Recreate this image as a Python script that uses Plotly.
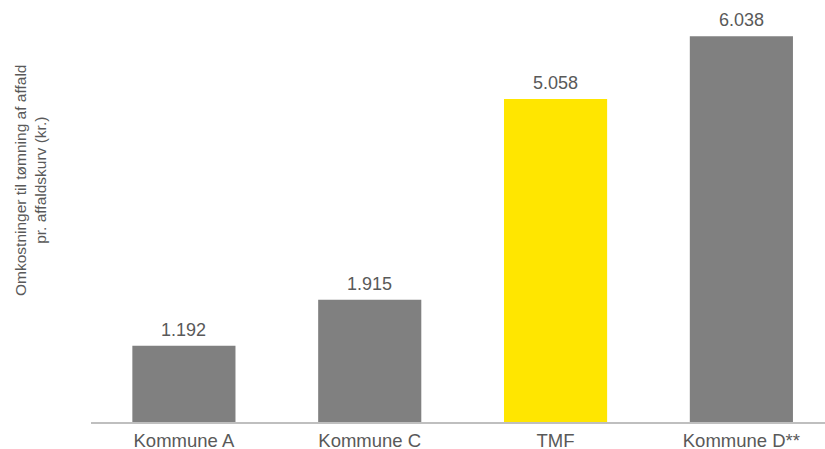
import plotly.graph_objects as go

categories = ["Kommune A", "Kommune C", "TMF", "Kommune D**"]
values = [1192, 1915, 5058, 6038]
colors = ["#808080", "#808080", "#FFE600", "#808080"]
labels = [f"{v:,}".replace(",", ".") for v in values]

fig = go.Figure(go.Bar(
    x=categories, y=values,
    marker=dict(color=colors, line=dict(width=0)),
    width=0.555, hoverinfo="skip",
))

annotations = [dict(
    x=c, y=v, text=t, xref="x", yref="y", showarrow=False,
    xanchor="center", yanchor="bottom", yshift=4,
    font=dict(size=18, color="#595959"),
) for c, v, t in zip(categories, values, labels)]

annotations.append(dict(
    text="Omkostninger til tømning af affald<br>pr. affaldskurv (kr.)",
    xref="paper", yref="paper", x=0, y=0.585, xanchor="center", yanchor="middle",
    xshift=-60, textangle=-90, showarrow=False,
    font=dict(size=15.5, color="#595959"),
))

fig.update_layout(
    width=825, height=449,
    margin=dict(l=91, r=0, t=10, b=27, autoexpand=False),
    plot_bgcolor="white", paper_bgcolor="white",
    showlegend=False,
    font=dict(family="Liberation Sans, Arial", size=18, color="#595959"),
    xaxis=dict(range=[-0.5, 3.45], showline=True, linecolor="#BFBFBF", linewidth=1.5,
               ticks="", showgrid=False, automargin=False, ticklabelstandoff=1,
               tickfont=dict(size=18.5, color="#595959")),
    yaxis=dict(range=[0, 6450], showticklabels=False, showgrid=False, zeroline=False,
               showline=False, ticks="", automargin=False),
    annotations=annotations,
)

fig.write_html("out.html", config={"displayModeBar": False},
               post_script="document.body.style.margin='0';document.body.style.padding='0';document.body.style.overflow='hidden';")
